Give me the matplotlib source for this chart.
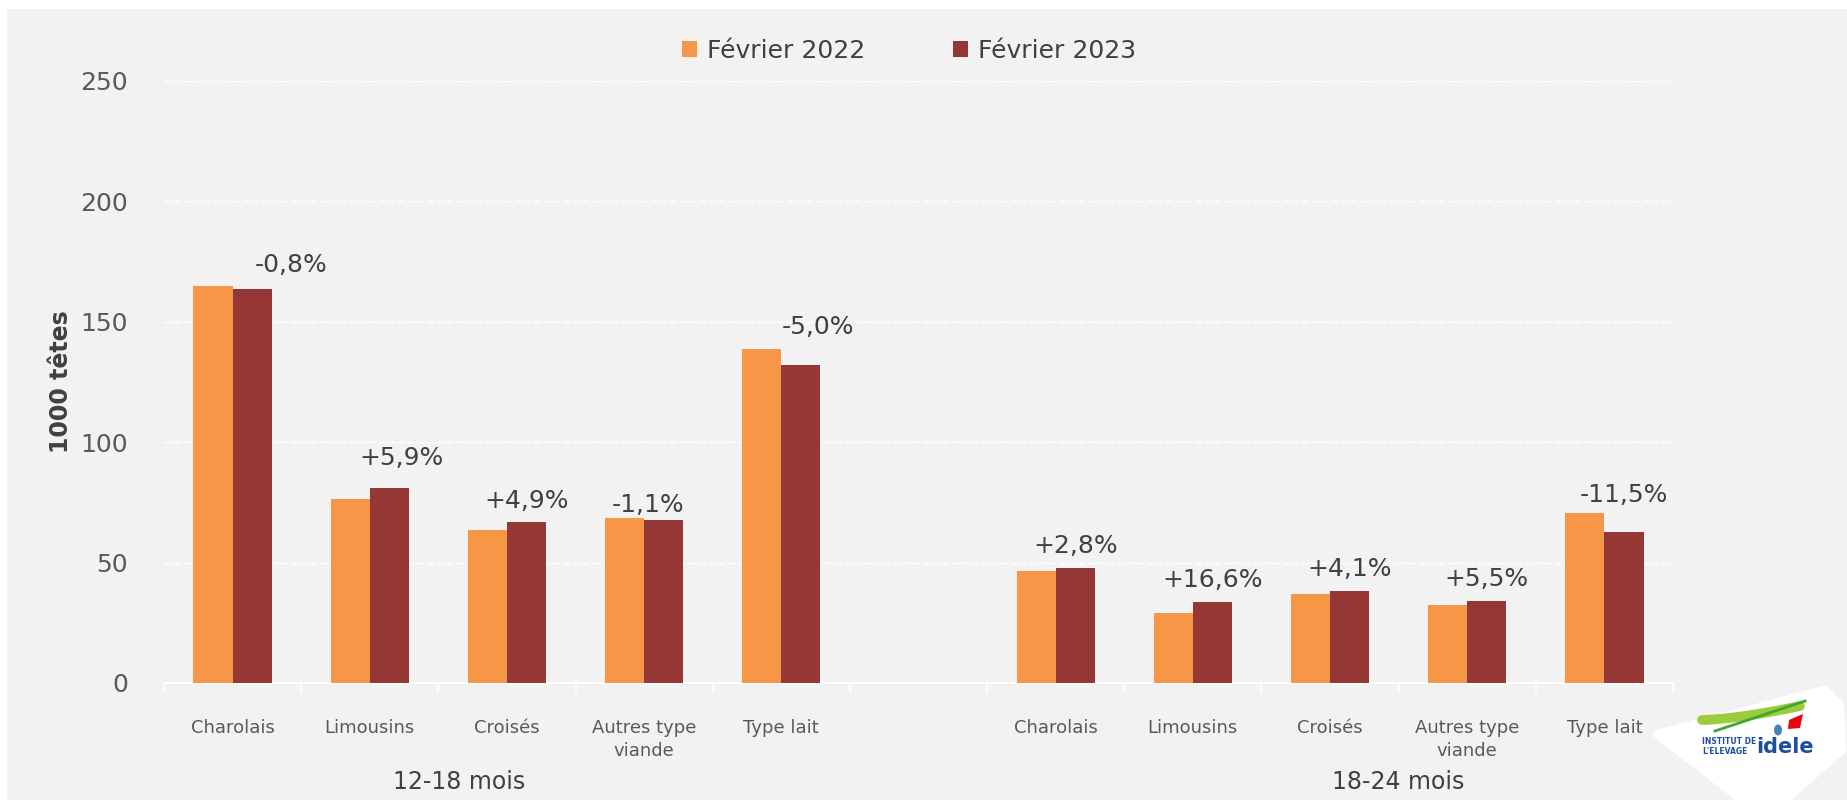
import numpy as np
import matplotlib
matplotlib.use("Agg")
from matplotlib import pyplot as plt
from matplotlib.patches import Rectangle, Polygon, Ellipse
import matplotlib.transforms as mtransforms

# donnees (1000 tetes)
categories = ["Charolais", "Limousins", "Croisés", "Autres type\nviande", "Type lait",
              "",
              "Charolais", "Limousins", "Croisés", "Autres type\nviande", "Type lait"]
fev_2022 = [165.0, 76.3, 63.6, 68.5, 138.9, np.nan, 46.4, 28.9, 36.8, 32.2, 70.7]
fev_2023 = [163.7, 80.8, 66.7, 67.7, 132.0, np.nan, 47.7, 33.7, 38.3, 34.0, 62.6]
evolutions = ["-0,8%", "+5,9%", "+4,9%", "-1,1%", "-5,0%", "",
              "+2,8%", "+16,6%", "+4,1%", "+5,5%", "-11,5%"]
groupes = ["12-18 mois", "18-24 mois"]
series = ["Février 2022", "Février 2023"]

# decalages des etiquettes (points)
decal_x = [28, 9, 0, -11, 12, 0, 0, 0, 0, 0, 0]
decal_y = [6, 13, 7, 1, 7, 0, 7, 7, 7, 7, 4]
pos_groupes = [1.65, 8.5]

orange = "#F79646"
rouge = "#953735"
gris_txt = "#404040"
gris_axe = "#595959"
fond = "#F2F2F2"

plt.rcParams['font.family'] = ['DejaVu Sans']

fig = plt.figure(figsize=(18.47, 8.0), dpi=100)
fig.patch.set_facecolor("white")
# fond gris
fig.patches.append(Rectangle((7/1847, 0), 1 - 7/1847, 1 - 9/800, transform=fig.transFigure,
                             facecolor=fond, edgecolor="none", zorder=-5))

ax = fig.add_axes([164/1847, 117/800, 1509/1847, 602/800])
ax.set_facecolor(fond)

x = np.arange(len(categories))
w = 0.285
b1 = ax.bar(x - w/2, fev_2022, w, color=orange, label=series[0], zorder=3)
b2 = ax.bar(x + w/2, fev_2023, w, color=rouge, label=series[1], zorder=3)

for i, lab in enumerate(evolutions):
    if lab == "":
        continue
    top = max(fev_2022[i], fev_2023[i])
    ax.annotate(lab, (x[i] + w/2, top), xytext=(decal_x[i], decal_y[i]), textcoords="offset points",
                ha="center", va="bottom", fontsize=18, color=gris_txt, zorder=4)

ax.set_xlim(-0.5, len(categories) - 0.5)
ax.set_ylim(0, 250)
ax.set_yticks([0, 50, 100, 150, 200, 250])
ax.yaxis.grid(True, color="white", linewidth=1.0, linestyle=(0, (5, 2)), zorder=1)
ax.set_axisbelow(True)
for s in ["top", "right", "left"]:
    ax.spines[s].set_visible(False)
ax.spines["bottom"].set_color("white")
ax.spines["bottom"].set_linewidth(1.5)

ax.tick_params(axis="y", length=0, pad=26, labelsize=18, labelcolor=gris_axe)
ax.set_xticks(x)
ax.set_xticklabels(categories, fontsize=13, color=gris_axe, linespacing=1.35)
ax.tick_params(axis="x", which="major", length=0, pad=26)
ax.set_xticks(np.arange(-0.5, len(categories)), minor=True)
ax.tick_params(axis="x", which="minor", length=7, color="white", width=1.2)

ax.set_ylabel("1000 têtes", fontsize=17, fontweight="bold", color=gris_txt)
ax.yaxis.set_label_coords(-0.06, 0.5)

trans = mtransforms.blended_transform_factory(ax.transData, ax.transAxes)
for g, px in zip(groupes, pos_groupes):
    ax.text(px, -0.165, g, transform=trans, ha="center", va="center",
            fontsize=17, color=gris_txt)

fig.legend(handles=[b1, b2], labels=series, loc="center", bbox_to_anchor=(0.492, 1 - 51/800),
           ncol=2, frameon=False, fontsize=18, handlelength=0.6, handleheight=0.6,
           handletextpad=0.4, columnspacing=3.5, labelcolor=gris_txt)

# logo idele (approximation)
def fp(px, py):
    return (px / 1847, 1 - py / 800)

logo = Polygon([fp(1657, 734), fp(1825, 690), fp(1840, 705), fp(1842, 750),
                fp(1785, 800), fp(1742, 800)], closed=True, transform=fig.transFigure,
               facecolor="white", edgecolor="white", linewidth=6, joinstyle="round", zorder=5)
fig.patches.append(logo)
xs = np.linspace(1702, 1800, 30)
ys = 720 - 14 * ((xs - 1702) / 98) ** 1.5
fig.lines.append(plt.Line2D(xs / 1847, 1 - ys / 800, transform=fig.transFigure,
                            color="#9CCB3B", linewidth=7, solid_capstyle="round", zorder=6))
xs2 = np.linspace(1715, 1805, 30)
ys2 = 731 - 30 * ((xs2 - 1715) / 90)
fig.lines.append(plt.Line2D(xs2 / 1847, 1 - ys2 / 800, transform=fig.transFigure,
                            color="#3FA535", linewidth=2, zorder=7))
fig.patches.append(Polygon([fp(1789, 720), fp(1803, 714), fp(1800, 728), fp(1788, 729)],
                           transform=fig.transFigure, facecolor="#E30613", edgecolor="none", zorder=7))
fig.patches.append(Ellipse(fp(1778, 730), 8 / 1847, 11 / 800, transform=fig.transFigure,
                           facecolor="#4A7FC1", edgecolor="none", zorder=7))
fig.text(1702 / 1847, 1 - 742 / 800, "INSTITUT DE", fontsize=5.5, fontweight="bold",
         color="#1F4E9C", va="center", ha="left", zorder=8)
fig.text(1702 / 1847, 1 - 751 / 800, "L'ELEVAGE", fontsize=5.5, fontweight="bold",
         color="#1F4E9C", va="center", ha="left", zorder=8)
fig.text(1756 / 1847, 1 - 747 / 800, "idele", fontsize=15, fontweight="bold",
         color="#1F4E9C", va="center", ha="left", zorder=8)

fig.savefig("out.png", dpi=100, facecolor=fig.get_facecolor())
